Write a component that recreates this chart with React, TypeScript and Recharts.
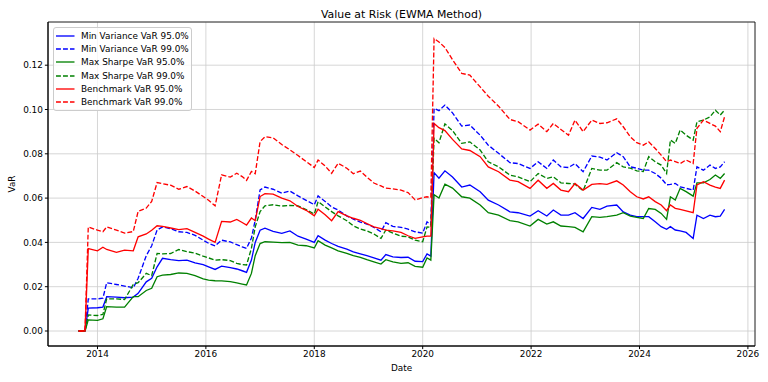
import React from 'react';
import { LineChart, Line, XAxis, YAxis, CartesianGrid, ReferenceArea, Legend } from 'recharts';

const dates = [
  2013.65, 2013.77, 2013.83, 2014.0, 2014.1, 2014.17, 2014.35, 2014.5, 2014.66, 2014.75, 2014.9, 2015.0,
  2015.1, 2015.2, 2015.35, 2015.5, 2015.65, 2015.8, 2015.95, 2016.05, 2016.17, 2016.29, 2016.45, 2016.57,
  2016.67, 2016.75, 2016.84, 2016.91, 2017.0, 2017.09, 2017.24, 2017.4, 2017.55, 2017.7, 2017.85, 2018.0,
  2018.07, 2018.2, 2018.32, 2018.44, 2018.6, 2018.72, 2018.85, 2018.97, 2019.1, 2019.23, 2019.32, 2019.45,
  2019.6, 2019.73, 2019.86, 2020.0, 2020.08, 2020.15, 2020.21, 2020.3, 2020.41, 2020.55, 2020.72, 2020.87,
  2021.06, 2021.21, 2021.4, 2021.61, 2021.76, 2021.98, 2022.13, 2022.29, 2022.41, 2022.55, 2022.69, 2022.81,
  2022.96, 2023.12, 2023.27, 2023.4, 2023.58, 2023.7, 2023.83, 2023.95, 2024.07, 2024.17, 2024.29, 2024.4,
  2024.5, 2024.57, 2024.66, 2024.75, 2024.86, 2024.99, 2025.06, 2025.18, 2025.3, 2025.4, 2025.49, 2025.57,
];

const minVar95 = [
  0, 0, 0.0103, 0.0105, 0.0108, 0.0155, 0.0153, 0.015, 0.0153, 0.017, 0.0222, 0.0238,
  0.029, 0.0328, 0.0322, 0.0318, 0.032, 0.0308, 0.03, 0.029, 0.0278, 0.0293, 0.0286, 0.028,
  0.0272, 0.0265, 0.032, 0.04, 0.0455, 0.0464, 0.045, 0.0441, 0.0452, 0.0428, 0.0415, 0.04,
  0.043, 0.041, 0.0395, 0.0382, 0.037, 0.0357, 0.0348, 0.034, 0.033, 0.032, 0.0345, 0.0335,
  0.0332, 0.0333, 0.0315, 0.0313, 0.0348, 0.0338, 0.0715, 0.069, 0.0723, 0.0695, 0.065, 0.0659,
  0.0629, 0.0591, 0.0569, 0.0538, 0.0534, 0.0519, 0.0543, 0.0519, 0.0546, 0.0523, 0.0523, 0.0534,
  0.0508, 0.0558, 0.0549, 0.0564, 0.0569, 0.0538, 0.0523, 0.0516, 0.0516, 0.0516, 0.0493, 0.0471,
  0.0459, 0.0471, 0.0456, 0.0452, 0.0445, 0.0418, 0.0523, 0.0508, 0.0523, 0.0516, 0.0519, 0.0549,
];

const minVar99 = [
  0, 0, 0.0145, 0.0145, 0.0148, 0.0218, 0.021, 0.0203, 0.0195, 0.0238, 0.034, 0.0385,
  0.0456, 0.047, 0.0462, 0.0448, 0.0445, 0.0432, 0.041, 0.0396, 0.0384, 0.041, 0.0402, 0.039,
  0.038, 0.0373, 0.042, 0.05, 0.0637, 0.065, 0.064, 0.0622, 0.0632, 0.061, 0.059, 0.057,
  0.061, 0.0585, 0.056, 0.0546, 0.052, 0.0505, 0.0492, 0.0483, 0.0468, 0.0448, 0.0489, 0.0472,
  0.0468, 0.046, 0.0448, 0.0442, 0.0493, 0.048, 0.1005, 0.0995, 0.102, 0.0985, 0.0925, 0.093,
  0.0884, 0.0839, 0.0802, 0.076, 0.0756, 0.0734, 0.0764, 0.0734, 0.0772, 0.0741, 0.0738, 0.0756,
  0.0719, 0.079, 0.0785, 0.0772, 0.0805, 0.0787, 0.0741, 0.0735, 0.0726, 0.0726, 0.0711, 0.069,
  0.066, 0.0662, 0.0666, 0.0651, 0.0644, 0.0636, 0.0741, 0.0726, 0.0749, 0.0734, 0.0741, 0.0764,
];

const maxSharpe95 = [
  0, 0, 0.005, 0.0048, 0.0055, 0.011, 0.0108, 0.0108, 0.0155, 0.0155, 0.0183, 0.0193,
  0.0245, 0.0252, 0.0255, 0.0262, 0.026, 0.025, 0.0235, 0.023, 0.0227, 0.0226, 0.0223, 0.0217,
  0.0212, 0.0208, 0.026, 0.034, 0.0395, 0.0403, 0.0401, 0.0399, 0.04, 0.0388, 0.0385, 0.0375,
  0.0408, 0.0388, 0.0375, 0.0362, 0.035, 0.034, 0.0332, 0.0322, 0.0312, 0.0302, 0.0322, 0.0312,
  0.0305, 0.0308, 0.0292, 0.0288, 0.033, 0.032, 0.0615, 0.06, 0.0663, 0.0645, 0.0606, 0.06,
  0.0569, 0.0534, 0.0523, 0.0498, 0.0493, 0.0474, 0.0504, 0.0483, 0.0493, 0.0474, 0.0471, 0.0468,
  0.0448, 0.0516, 0.0513, 0.0516, 0.0523, 0.0534, 0.0519, 0.0513, 0.0508, 0.0553, 0.0549, 0.0531,
  0.0504, 0.0606, 0.0591, 0.0644, 0.0629, 0.0609, 0.0669, 0.0669, 0.0684, 0.0704, 0.0689, 0.0711,
];

const maxSharpe99 = [
  0, 0, 0.0072, 0.007, 0.0075, 0.0145, 0.0145, 0.0142, 0.021, 0.0218, 0.026, 0.025,
  0.035, 0.0348, 0.035, 0.0368, 0.0358, 0.0352, 0.0338, 0.033, 0.032, 0.0322, 0.0318, 0.0305,
  0.03, 0.0298, 0.0373, 0.047, 0.0539, 0.0565, 0.057, 0.0564, 0.0567, 0.0565, 0.0548, 0.0528,
  0.0584, 0.056, 0.0539, 0.052, 0.0498, 0.0475, 0.046, 0.0452, 0.0438, 0.0418, 0.0456, 0.0442,
  0.0428, 0.0425, 0.041, 0.0403, 0.047, 0.0468, 0.087, 0.085, 0.0935, 0.0905, 0.0847, 0.0854,
  0.0817, 0.0764, 0.0741, 0.0704, 0.0696, 0.0674, 0.0711, 0.0689, 0.0696, 0.0669, 0.0666, 0.0663,
  0.0633, 0.0734, 0.0726, 0.0726, 0.076, 0.0741, 0.0735, 0.0723, 0.072, 0.0787, 0.0764, 0.0749,
  0.0711, 0.0862, 0.0847, 0.0907, 0.0884, 0.0862, 0.0944, 0.0952, 0.0967, 0.0997, 0.0975, 0.0997,
];

const bench95 = [
  0, 0, 0.0372, 0.0362, 0.0378, 0.0368, 0.0355, 0.0365, 0.0362, 0.0425, 0.0438, 0.0455,
  0.0475, 0.0472, 0.0465, 0.0458, 0.0462, 0.0445, 0.0428, 0.0415, 0.04, 0.0495, 0.0492, 0.0504,
  0.049, 0.0478, 0.051, 0.0498, 0.0607, 0.062, 0.0618, 0.06, 0.0588, 0.0562, 0.0545, 0.052,
  0.055, 0.0525, 0.0498, 0.0539, 0.052, 0.0509, 0.05, 0.0485, 0.047, 0.0462, 0.0455, 0.0452,
  0.0445, 0.043, 0.0418, 0.0425, 0.0428, 0.0428, 0.0937, 0.0918, 0.0905, 0.0865, 0.0822, 0.0815,
  0.0787, 0.0741, 0.0719, 0.0681, 0.0674, 0.0644, 0.0681, 0.0644, 0.0666, 0.0636, 0.0629, 0.0666,
  0.0636, 0.0662, 0.0665, 0.0662, 0.0678, 0.0659, 0.0629, 0.0606, 0.0596, 0.0606, 0.0584, 0.0569,
  0.0543, 0.0569, 0.0554, 0.0549, 0.0542, 0.0534, 0.0659, 0.0674, 0.0659, 0.065, 0.0644, 0.0681,
];

const bench99 = [
  0, 0, 0.047, 0.0455, 0.0448, 0.047, 0.0455, 0.0442, 0.0449, 0.054, 0.0555, 0.0585,
  0.067, 0.0665, 0.0658, 0.064, 0.0652, 0.0632, 0.0607, 0.059, 0.0565, 0.0705, 0.0695, 0.0712,
  0.0697, 0.068, 0.072, 0.071, 0.0855, 0.0877, 0.0872, 0.0842, 0.0818, 0.0792, 0.0765, 0.0738,
  0.0772, 0.0745, 0.0712, 0.0757, 0.0735, 0.071, 0.0722, 0.0695, 0.0668, 0.0655, 0.0645, 0.0642,
  0.0636, 0.0625, 0.0592, 0.0602, 0.0606, 0.0603, 0.132, 0.1305, 0.128, 0.1225, 0.1163, 0.1155,
  0.1102, 0.106, 0.1015, 0.0955, 0.0945, 0.0907, 0.0934, 0.09, 0.0937, 0.091, 0.0884, 0.0952,
  0.09, 0.0952, 0.0937, 0.094, 0.0958, 0.0922, 0.0877, 0.085, 0.0839, 0.0854, 0.0824, 0.0794,
  0.0764, 0.0772, 0.0765, 0.0756, 0.0772, 0.0756, 0.0915, 0.0952, 0.0937, 0.0925, 0.09, 0.0967,
];

const xTicks = [2014, 2016, 2018, 2020, 2022, 2024, 2026];
const yTicks = [0, 0.02, 0.04, 0.06, 0.08, 0.1, 0.12];
const xDomain: [number, number] = [2013.087, 2026.131];
const yDomain: [number, number] = [-0.00677, 0.1395];

const series = [
  { key: 'minVar95', name: 'Min Variance VaR 95.0%', color: '#0000ff', dashed: false, values: minVar95 },
  { key: 'minVar99', name: 'Min Variance VaR 99.0%', color: '#0000ff', dashed: true, values: minVar99 },
  { key: 'maxSharpe95', name: 'Max Sharpe VaR 95.0%', color: '#008000', dashed: false, values: maxSharpe95 },
  { key: 'maxSharpe99', name: 'Max Sharpe VaR 99.0%', color: '#008000', dashed: true, values: maxSharpe99 },
  { key: 'bench95', name: 'Benchmark VaR 95.0%', color: '#ff0000', dashed: false, values: bench95 },
  { key: 'bench99', name: 'Benchmark VaR 99.0%', color: '#ff0000', dashed: true, values: bench99 },
];

const rows = dates.map((d, i) => {
  const r: Record<string, number> = { date: d };
  series.forEach((s) => {
    r[s.key] = s.values[i];
  });
  return r;
});

const FONT = "'DejaVu Sans', sans-serif";
const DASH = '4.9 2.1';

const renderLegend = () => (
  <div
    style={{
      boxSizing: 'border-box',
      width: 139,
      height: 84,
      border: '1px solid #cccccc',
      borderRadius: 3,
      background: 'rgba(255,255,255,0.8)',
      padding: '1px 0 0 1px',
      fontFamily: FONT,
    }}
  >
    {series.map((s) => (
      <div key={s.key} style={{ display: 'flex', alignItems: 'center', height: 13.3 }}>
        <svg width={20} height={10} style={{ flex: 'none' }}>
          <line
            x1={1}
            y1={5}
            x2={19.5}
            y2={5}
            stroke={s.color}
            strokeWidth={1.33}
            strokeDasharray={s.dashed ? DASH : undefined}
          />
        </svg>
        <span style={{ marginLeft: 6, fontSize: 8.9, color: '#000', whiteSpace: 'nowrap', lineHeight: '10px' }}>
          {s.name}
        </span>
      </div>
    ))}
  </div>
);

export default function App() {
  return (
    <div style={{ position: 'absolute', left: 0, top: 0, width: 768, height: 382, background: '#fff', fontFamily: FONT }}>
      <div
        style={{
          position: 'absolute',
          left: 48,
          width: 707,
          top: 7.5,
          textAlign: 'center',
          fontSize: 10.9,
          lineHeight: '13px',
          color: '#000',
        }}
      >
        Value at Risk (EWMA Method)
      </div>
      <LineChart width={768} height={382} data={rows} margin={{ top: 22, right: 13, bottom: 0, left: 0 }}>
        <CartesianGrid stroke="#cccccc" strokeWidth={0.8} />
        <XAxis
          dataKey="date"
          type="number"
          domain={xDomain}
          ticks={xTicks}
          allowDataOverflow
          height={36}
          tickSize={3.1}
          tickMargin={2}
          stroke="#000"
          tick={{ fill: '#000', fontSize: 8.9, fontFamily: FONT }}
          tickFormatter={(v: number) => String(v)}
        />
        <YAxis
          type="number"
          domain={yDomain}
          ticks={yTicks}
          allowDataOverflow
          width={48}
          tickSize={3.1}
          tickMargin={2}
          stroke="#000"
          tick={{ fill: '#000', fontSize: 8.9, fontFamily: FONT }}
          tickFormatter={(v: number) => v.toFixed(2)}
        />
        <ReferenceArea
          x1={xDomain[0]}
          x2={xDomain[1]}
          y1={yDomain[0]}
          y2={yDomain[1]}
          fill="none"
          stroke="#000"
          strokeWidth={0.8}
          ifOverflow="visible"
        />
        {series.map((s) => (
          <Line
            key={s.key}
            dataKey={s.key}
            name={s.name}
            type="linear"
            stroke={s.color}
            strokeWidth={1.33}
            strokeDasharray={s.dashed ? DASH : undefined}
            dot={false}
            activeDot={false}
            isAnimationActive={false}
          />
        ))}
        <Legend
          layout="vertical"
          align="center"
          verticalAlign="middle"
          content={renderLegend}
          wrapperStyle={{ left: 53, top: 27, width: 139, height: 84 }}
        />
      </LineChart>
      <div
        style={{
          position: 'absolute',
          left: 48,
          width: 707,
          top: 363,
          textAlign: 'center',
          fontSize: 8.9,
          lineHeight: '11px',
          color: '#000',
        }}
      >
        Date
      </div>
      <div
        style={{
          position: 'absolute',
          left: 12,
          top: 184,
          transform: 'translate(-50%, -50%) rotate(-90deg)',
          fontSize: 8.9,
          lineHeight: '11px',
          color: '#000',
          whiteSpace: 'nowrap',
        }}
      >
        VaR
      </div>
    </div>
  );
}
